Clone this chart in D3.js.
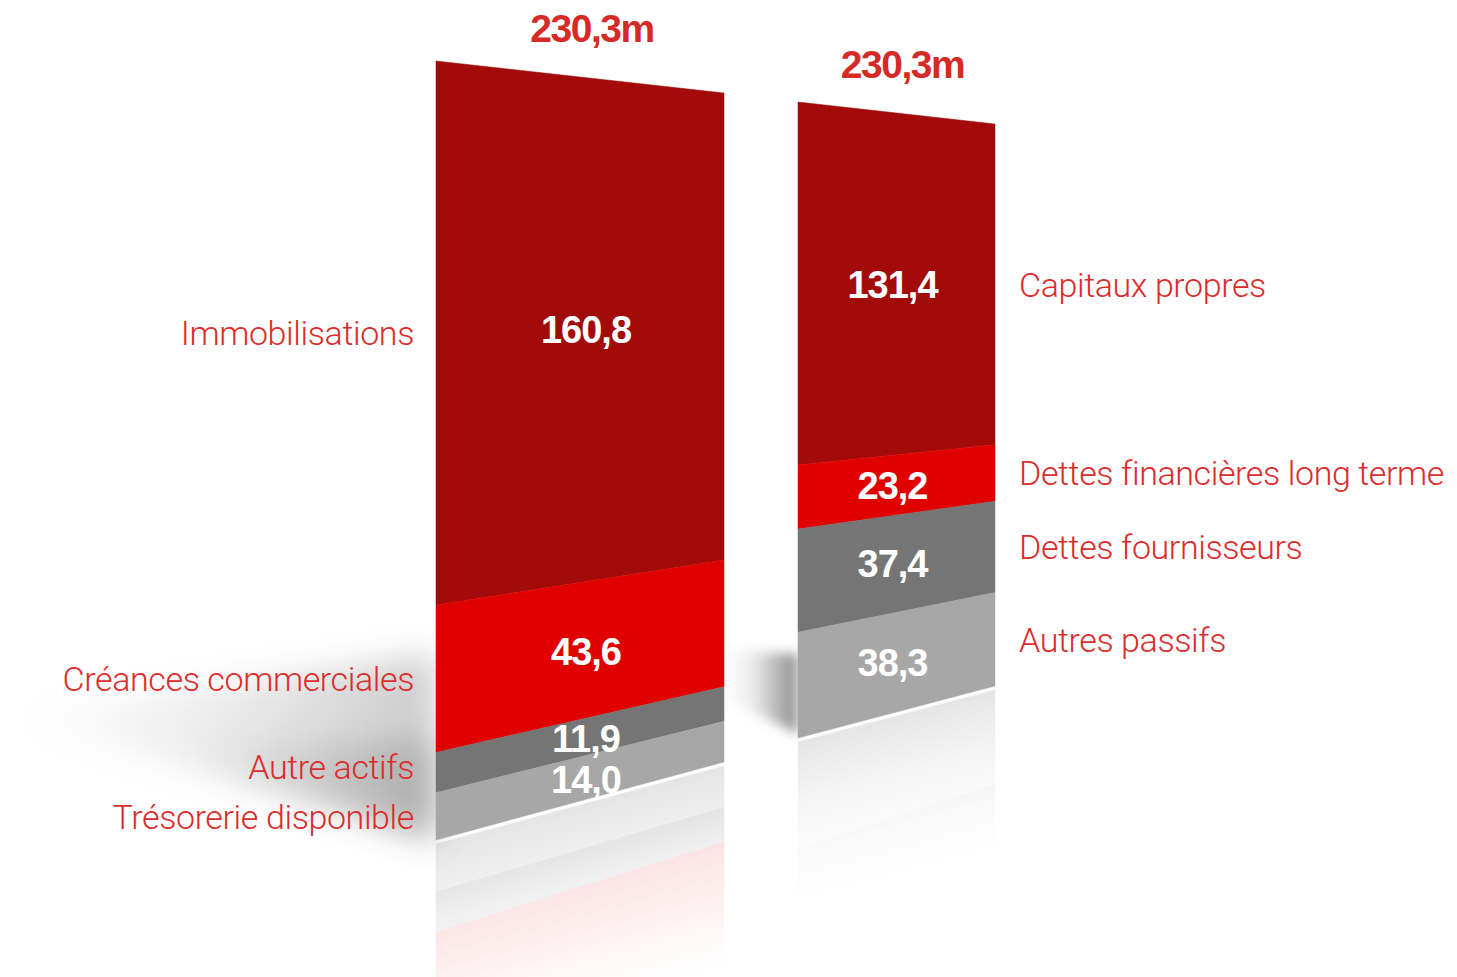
<!DOCTYPE html>
<html>
<head>
<meta charset="utf-8">
<script src="https://cdn.jsdelivr.net/npm/d3@7"></script>
<style>
  body { margin: 0; background: #fff; }
  .side { font-family: "Roboto", "Liberation Sans", sans-serif; font-weight: 300; fill: #db2c2c; }
  .num { font-family: "Liberation Sans", Arial, sans-serif; font-weight: bold; fill: #fff; }
  .total { font-family: "Liberation Sans", Arial, sans-serif; font-weight: bold; fill: #d62a26; }
</style>
</head>
<body>
<div id="chart"></div>
<script>
// Bilan - actif / passif

// Data
var actifCategories = ["Immobilisations", "Créances commerciales", "Autre actifs", "Trésorerie disponible"];
var actifValues = [160.8, 43.6, 11.9, 14.0];
var passifCategories = ["Capitaux propres", "Dettes financières long terme", "Dettes fournisseurs", "Autres passifs"];
var passifValues = [131.4, 23.2, 37.4, 38.3];
var totalValues = [230.3, 230.3];

// Styles
var segmentColors = ["#a30b0b", "#e00000", "#757575", "#a7a7a7"];

// Chart Parameters
var svgWidth = 1457;
var svgHeight = 977;

// Bar geometry (perspective quads): left edge / right edge
var bars = [
  { x0: 436, x1: 724, topL: 61, topR: 93, botL: 840, botR: 762, side: "left" },
  { x0: 798, x1: 995, topL: 102, topR: 124, botL: 738, botR: 686, side: "right" }
];
bars[0].categories = actifCategories; bars[0].values = actifValues; bars[0].total = totalValues[0];
bars[1].categories = passifCategories; bars[1].values = passifValues; bars[1].total = totalValues[1];

var fr = d3.formatLocale({ decimal: ",", thousands: " ", grouping: [3], currency: ["", "€"] });
var fmt = fr.format(".1f");

var svg = d3.select("#chart")
  .append("svg")
  .attr("width", svgWidth)
  .attr("height", svgHeight);

var defs = svg.append("defs");

defs.append("filter").attr("id", "blurBig")
  .attr("filterUnits", "userSpaceOnUse")
  .attr("x", 0).attr("y", 0).attr("width", svgWidth).attr("height", svgHeight)
  .append("feGaussianBlur").attr("stdDeviation", 16);
defs.append("filter").attr("id", "blurSmall")
  .attr("filterUnits", "userSpaceOnUse")
  .attr("x", 0).attr("y", 0).attr("width", svgWidth).attr("height", svgHeight)
  .append("feGaussianBlur").attr("stdDeviation", 6);

function hGradient(id, xa, xb, stops) {
  var g = defs.append("linearGradient").attr("id", id)
    .attr("gradientUnits", "userSpaceOnUse")
    .attr("x1", xa).attr("x2", xb).attr("y1", 0).attr("y2", 0);
  stops.forEach(function(s) {
    g.append("stop").attr("offset", s[0]).attr("stop-color", "#000").attr("stop-opacity", s[1]);
  });
}

var b0 = bars[0], b1 = bars[1];

// Shadows on the floor
hGradient("shadowLeft", b0.x0 - 420, b0.x0, [[0, 0], [0.5, 0.08], [1, 0.2]]);
svg.append("polygon")
  .attr("points", [[b0.x0 - 420, b0.botL - 128], [b0.x0, b0.botL - 185], [b0.x0, b0.botL], [b0.x0 - 410, b0.botL - 116]].join(" "))
  .attr("fill", "url(#shadowLeft)")
  .attr("filter", "url(#blurBig)");
hGradient("shadowLeft2", b0.x0 - 260, b0.x0, [[0, 0], [1, 0.16]]);
svg.append("polygon")
  .attr("points", [[b0.x0 - 260, b0.botL - 95], [b0.x0, b0.botL - 100], [b0.x0, b0.botL], [b0.x0 - 250, b0.botL - 80]].join(" "))
  .attr("fill", "url(#shadowLeft2)")
  .attr("filter", "url(#blurBig)");

hGradient("shadowMid", b0.x1, b1.x0, [[0, 0], [0.4, 0.08], [1, 0.45]]);
svg.append("polygon")
  .attr("points", [[b0.x1, b1.botL - 88], [b1.x0, b1.botL - 84], [b1.x0, b1.botL - 4], [b0.x1, b1.botL - 40]].join(" "))
  .attr("fill", "url(#shadowMid)")
  .attr("filter", "url(#blurSmall)");

bars.forEach(function(bar, bi) {
  var yL = d3.scaleLinear().domain([0, bar.total]).range([bar.botL, bar.topL]);
  var yR = d3.scaleLinear().domain([0, bar.total]).range([bar.botR, bar.topR]);

  // stack from the bottom (values listed top to bottom)
  var n = bar.values.length;
  var segs = bar.values.map(function(v, i) {
    var below = d3.sum(bar.values.slice(i + 1));
    return { name: bar.categories[i], value: v, y0: below, y1: below + v, color: segmentColors[i] };
  });

  // Reflection
  var gap = 4;
  var mirror = function(y, base) { return base + (base - y) + gap; };
  var cx = (bar.x0 + bar.x1) / 2;
  var cy = (bar.botL + bar.botR) / 2;
  var slope = (bar.botR - bar.botL) / (bar.x1 - bar.x0);
  var len = bi === 0 ? 190 : 150;
  var mg = defs.append("linearGradient").attr("id", "reflFade" + bi)
    .attr("gradientUnits", "userSpaceOnUse")
    .attr("x1", cx).attr("y1", cy)
    .attr("x2", cx - slope * len).attr("y2", cy + len);
  mg.append("stop").attr("offset", 0).attr("stop-color", "#fff").attr("stop-opacity", 0.3);
  mg.append("stop").attr("offset", 0.4).attr("stop-color", "#fff").attr("stop-opacity", 0.11);
  mg.append("stop").attr("offset", 0.75).attr("stop-color", "#fff").attr("stop-opacity", 0.04);
  mg.append("stop").attr("offset", 1).attr("stop-color", "#fff").attr("stop-opacity", 0);
  defs.append("mask").attr("id", "reflMask" + bi)
    .attr("maskUnits", "userSpaceOnUse")
    .attr("x", 0).attr("y", 0).attr("width", svgWidth).attr("height", svgHeight)
    .append("rect").attr("width", svgWidth).attr("height", svgHeight).attr("fill", "url(#reflFade" + bi + ")");

  svg.append("g")
    .attr("mask", "url(#reflMask" + bi + ")")
    .selectAll("polygon")
    .data(segs)
    .enter()
    .append("polygon")
    .attr("points", function(d) {
      return [
        [bar.x0, mirror(yL(d.y0), bar.botL)], [bar.x1, mirror(yR(d.y0), bar.botR)],
        [bar.x1, mirror(yR(d.y1), bar.botR)], [bar.x0, mirror(yL(d.y1), bar.botL)]
      ].join(" ");
    })
    .attr("fill", function(d) { return d.color; })
    .attr("stroke", function(d) { return d.color; })
    .attr("stroke-width", 0.5);

  // Bar segments
  var g = svg.append("g");
  g.selectAll("polygon")
    .data(segs)
    .enter()
    .append("polygon")
    .attr("points", function(d) {
      return [
        [bar.x0, yL(d.y0)], [bar.x1, yR(d.y0)],
        [bar.x1, yR(d.y1)], [bar.x0, yL(d.y1)]
      ].join(" ");
    })
    .attr("fill", function(d) { return d.color; })
    .attr("stroke", function(d) { return d.color; })
    .attr("stroke-width", 0.5);

  // Values inside
  g.selectAll("text.num")
    .data(segs)
    .enter()
    .append("text")
    .attr("class", "num")
    .attr("x", cx + (bi === 0 ? 6 : -4))
    .attr("y", function(d) { return (yL(d.y0) + yL(d.y1) + yR(d.y0) + yR(d.y1)) / 4; })
    .attr("dy", "0.36em")
    .attr("text-anchor", "middle")
    .style("font-size", "38px")
    .style("letter-spacing", "-1px")
    .text(function(d) { return fmt(d.value); });

  // Total on top
  svg.append("text")
    .attr("class", "total")
    .attr("x", cx + (bi === 0 ? 12 : 6))
    .attr("y", (yL(bar.total) + yR(bar.total)) / 2 - 35)
    .attr("text-anchor", "middle")
    .style("font-size", "39px")
    .style("letter-spacing", "-1.5px")
    .text(fmt(bar.total) + "m");

  // Side labels, centered on the adjacent edge of each segment
  var edge = bar.side === "left" ? yL : yR;
  var ys = segs.map(function(d) { return (edge(d.y0) + edge(d.y1)) / 2; });
  for (var k = n - 2; k >= 0; k--) {
    if (ys[k + 1] - ys[k] < 50) ys[k] = ys[k + 1] - 50;
  }
  svg.append("g").selectAll("text")
    .data(segs)
    .enter()
    .append("text")
    .attr("class", "side")
    .attr("x", bar.side === "left" ? bar.x0 - 22 : bar.x1 + 24)
    .attr("y", function(d, i) { return ys[i]; })
    .attr("dy", "0.36em")
    .attr("text-anchor", bar.side === "left" ? "end" : "start")
    .style("font-size", "34px")
    .style("letter-spacing", "-0.4px")
    .text(function(d) { return d.name; });
});
</script>
</body>
</html>
